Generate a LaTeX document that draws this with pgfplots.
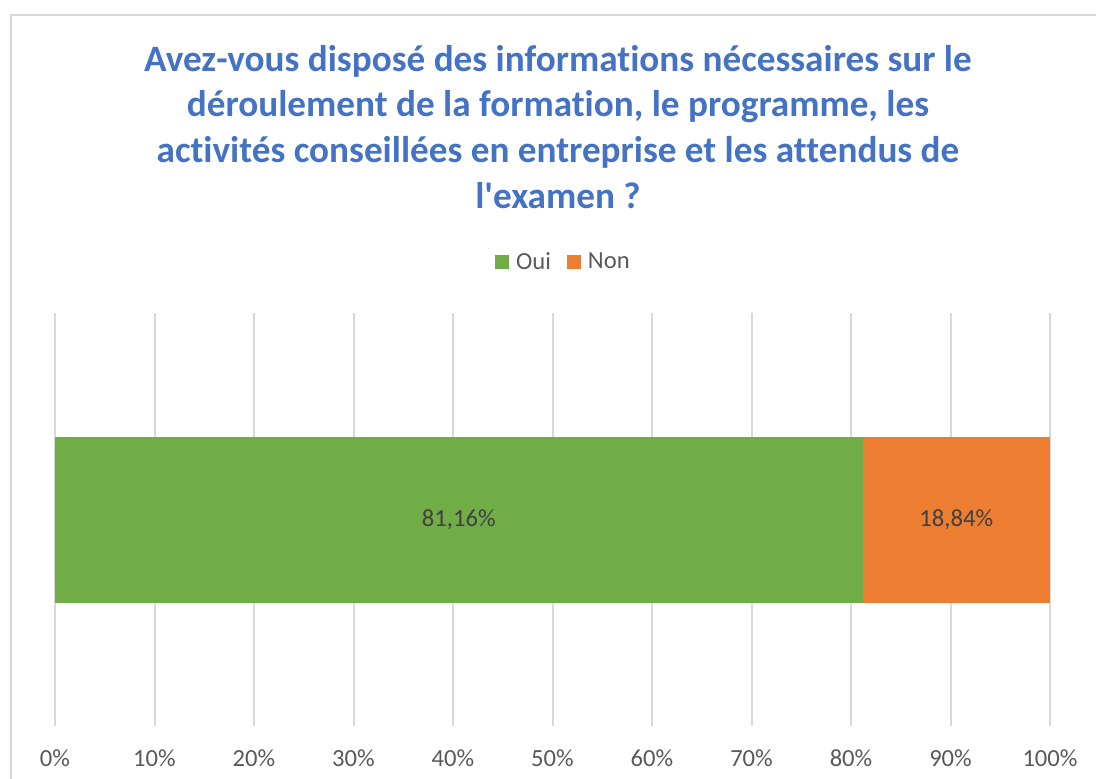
\documentclass[border=0pt]{standalone}
\usepackage{pgfplots}
\pgfplotsset{compat=1.18}
\usepackage{fontspec}
\setmainfont{Carlito}[Ligatures={NoCommon,NoContextual}]
\newfontfamily\titlefont{Carlito}[Ligatures={NoCommon,NoContextual}]
\definecolor{titleblue}{HTML}{4472C4}
\definecolor{oui}{HTML}{70AD47}
\definecolor{non}{HTML}{ED7D31}
\definecolor{gridgray}{HTML}{D9D9D9}
\definecolor{ticktext}{HTML}{595959}
\definecolor{labeltext}{HTML}{404040}
\begin{document}
\begin{tikzpicture}
\useasboundingbox (0,0) rectangle (548pt,389pt);
\begin{scope}
\clip (0,0) rectangle (548pt,389pt);
\draw[gridgray, line width=1pt] (5.5pt,381.5pt) rectangle (553pt,-10pt);
\end{scope}
\begin{scope}[every node/.style={anchor=base, inner sep=0pt, text=titleblue, font=\titlefont\fontsize{18.6}{22.3}\selectfont\bfseries}]
\node at (279pt,353pt) {Avez-vous disposé des informations nécessaires sur le};
\node at (279pt,330.5pt) {déroulement de la formation, le programme, les};
\node at (279pt,307.5pt) {activités conseillées en entreprise et les attendus de};
\node at (279pt,285pt) {l'examen ?};
\end{scope}
\begin{axis}[
  at={(27.5pt,26pt)}, anchor=south west,
  scale only axis, width=497.5pt, height=206.5pt,
  xbar stacked, bar width=83pt,
  xmin=0, xmax=100, ymin=-1, ymax=1,
  axis line style={draw=none},
  xtick={0,10,...,100},
  xticklabels={0\%,10\%,20\%,30\%,40\%,50\%,60\%,70\%,80\%,90\%,100\%},
  ytick=\empty,
  major tick length=0pt,
  xmajorgrids, grid style={gridgray, line width=1pt},
  xticklabel style={anchor=base, font=\fontsize{12.3}{14}\selectfont, text=ticktext, yshift=-20pt},
  legend columns=2,
  legend style={at={(0.512,1.123)}, anchor=center, draw=none, fill=none,
    font=\fontsize{12.3}{14}\selectfont, text=ticktext,
    /tikz/every even column/.append style={column sep=6pt}},
  legend image code/.code={\fill[#1] (0pt,-3.5pt) rectangle (7pt,3.5pt);},
  legend cell align=left,
]
\addplot[fill=oui, draw=none] coordinates {(81.16,0)};
\addlegendentry{\hspace{1.5pt}Oui}
\addplot[fill=non, draw=none] coordinates {(18.84,0)};
\addlegendentry{\hspace{1.5pt}Non}
\coordinate (labOui) at (axis cs:40.58,0);
\coordinate (labNon) at (axis cs:90.58,0);
\end{axis}
\node[font=\fontsize{12.3}{14}\selectfont, text=labeltext] at (labOui) {81,16\%};
\node[font=\fontsize{12.3}{14}\selectfont, text=labeltext] at (labNon) {18,84\%};
\end{tikzpicture}
\end{document}
